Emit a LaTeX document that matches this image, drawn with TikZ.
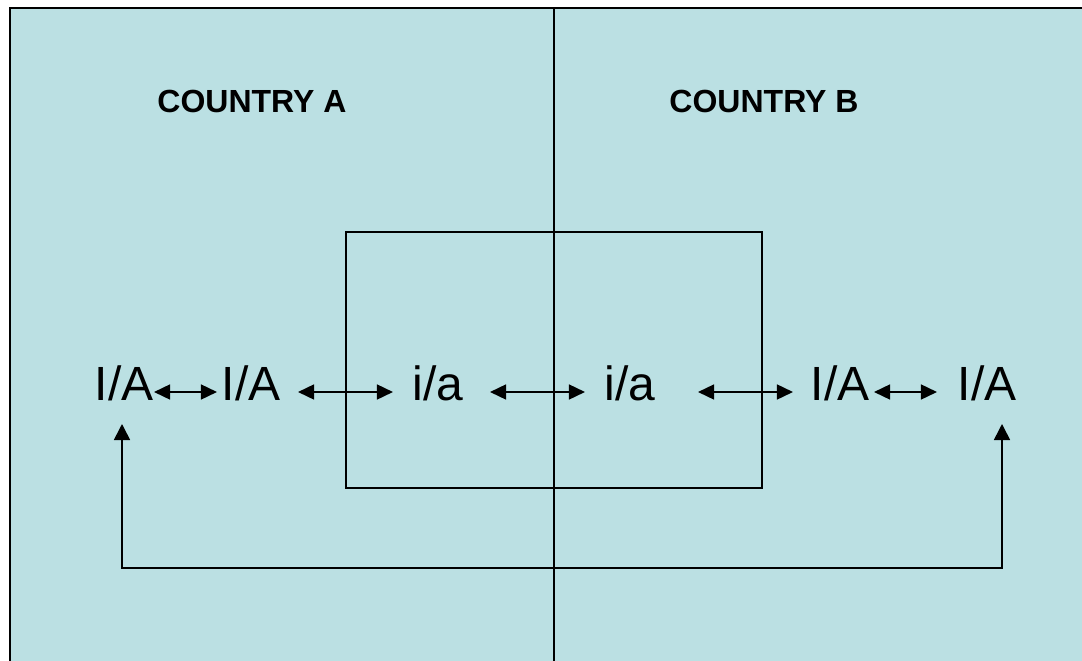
\documentclass[tikz,border=0pt]{standalone}
\usepackage{fontspec}
\setmainfont{Liberation Sans}
\usetikzlibrary{arrows.meta}
\definecolor{seabg}{RGB}{187,224,227}
\begin{document}
\begin{tikzpicture}[x=1pt,y=-1pt,
  frame/.style={line width=2.5pt},
  divider/.style={line width=1.6pt},
  big/.style={inner sep=0pt,anchor=base,font=\fontsize{48}{56}\selectfont},
  heading/.style={inner sep=0pt,anchor=base,font=\fontsize{32}{38}\selectfont\bfseries},
  dbl/.style={line width=1.6pt,{Triangle[length=16pt,width=15pt]}-{Triangle[length=16pt,width=15pt]}},
  loop/.style={line width=1.6pt,{Triangle[length=16pt,width=16pt]}-{Triangle[length=16pt,width=16pt]}}]
  \useasboundingbox (0,0) rectangle (1082,661);
  % background panel with its top and left edges
  \fill[seabg] (10,8) rectangle (1082,661);
  \draw[frame] (1082,8) -- (10,8) -- (10,661);
  % border between the two countries
  \draw[divider] (554,8) -- (554,661);
  % shared zone
  \draw[divider] (346,232) rectangle (762,488);

  \node[heading] (ca) at (252,113) {COUNTRY A};
  \node[heading] (cb) at (764,113) {COUNTRY B};

  \node[big] (a1) at (124,400) {I/A};
  \node[big] (a2) at (251,400) {I/A};
  \node[big] (i1) at (438,400) {i/a};
  \node[big] (i2) at (630,400) {i/a};
  \node[big] (a3) at (840,400) {I/A};
  \node[big] (a4) at (987,400) {I/A};

  \draw[dbl,shorten <=0.5pt,shorten >=4.5pt] ([yshift=8pt]a1.base east) -- ([yshift=8pt]a2.base west);
  \draw[dbl,shorten <=17.5pt,shorten >=19.5pt] ([yshift=8pt]a2.base east) -- ([yshift=8pt]i1.base west);
  \draw[dbl,shorten <=26.5pt,shorten >=19.5pt] ([yshift=8pt]i1.base east) -- ([yshift=8pt]i2.base west);
  \draw[dbl,shorten <=42.5pt,shorten >=17.5pt] ([yshift=8pt]i2.base east) -- ([yshift=8pt]a3.base west);
  \draw[dbl,shorten <=4.5pt,shorten >=20.5pt] ([yshift=8pt]a3.base east) -- ([yshift=8pt]a4.base west);

  % link between the outer parties
  \coordinate (tipL) at (122,424);
  \coordinate (tipR) at (1002,424);
  \coordinate (cornL) at (122,568);
  \coordinate (cornR) at (1002,568);
  \draw[loop] (tipL) -- (cornL) -- (cornR) -- (tipR);
\end{tikzpicture}
\end{document}
